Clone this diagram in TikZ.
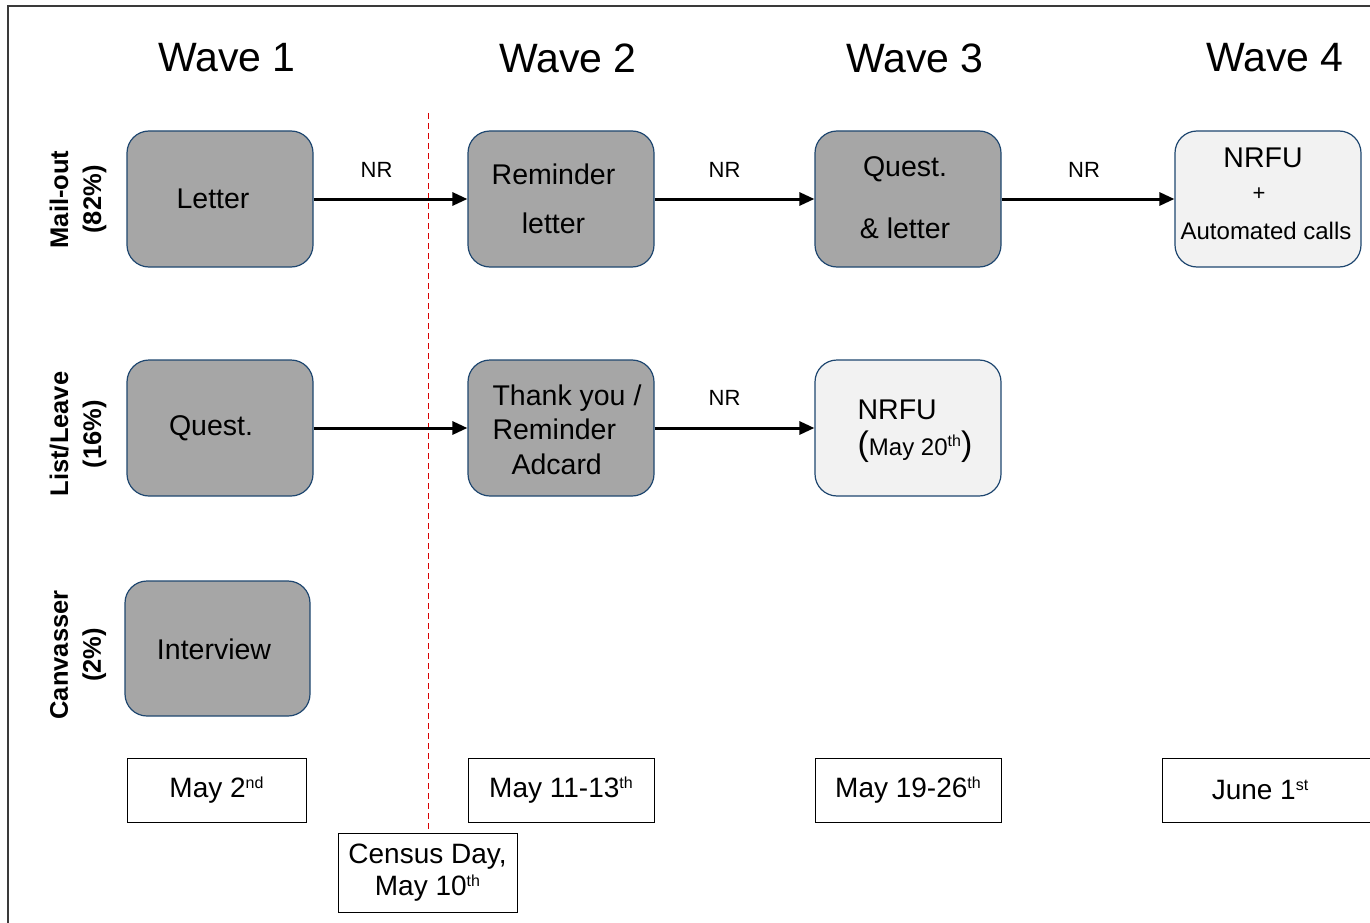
\documentclass[tikz,border=0pt]{standalone}
\usepackage{fontspec}
\setmainfont{Liberation Sans}
\usetikzlibrary{arrows.meta}
\definecolor{boxgray}{HTML}{A6A6A6}
\definecolor{boxlight}{HTML}{F2F2F2}
\definecolor{boxedge}{HTML}{1F4770}
\definecolor{framegray}{HTML}{3A3A3A}
\newcommand\fs[2]{\fontsize{#1}{#2}\selectfont}
\newcommand\supr[1]{\raisebox{9pt}{\fs{16}{16}#1}}
\tikzset{
  stage/.style={draw=boxedge, line width=1.2pt, rounded corners=22pt,
    minimum width=186pt, minimum height=136pt, inner sep=0pt},
  darkstage/.style={stage, fill=boxgray},
  lightstage/.style={stage, fill=boxlight},
  txt/.style={inner sep=0pt, align=center, text=black},
  wave/.style={txt, font=\fs{41}{41}},
  rowlabel/.style={txt, rotate=90, font=\fs{25.5}{33}\bfseries},
  datebox/.style={draw=black, line width=1pt, fill=white, inner sep=0pt,
    font=\fs{28}{32}, align=center},
  flow/.style={line width=3pt, -{Triangle[length=15pt,width=13pt]}},
  nrlabel/.style={txt, font=\fs{22}{22}},
}
\begin{document}
\begin{tikzpicture}[x=1pt,y=-1pt]
\useasboundingbox (0,0) rectangle (1370,923);
\fill[white] (0,0) rectangle (1370,923);
% outer frame (runs off the right and bottom edges)
\draw[framegray, line width=1.5pt] (8,930) -- (8,6) -- (1380,6);

% wave headings
\node[wave] (w1) at (227,58) {Wave 1};
\node[wave] (w2) at (568,58) {Wave 2};
\node[wave] (w3) at (915,58) {Wave 3};
\node[wave] (w4) at (1275,58) {Wave 4};

% row labels
\node[rowlabel] (r1) at (78,199.5) {Mail-out\\(82\%)};
\node[rowlabel] (r2) at (78,434) {List/Leave\\(16\%)};
\node[rowlabel] (r3) at (78,655) {Canvasser\\(2\%)};

% census day marker
\node[datebox, minimum width=179pt, minimum height=79pt] (census) at (427.5,872.5)
  {Census Day,\\May 10\supr{th}};
\coordinate (censustop) at (428,113);
\draw[red!85!black, dashed, dash pattern=on 6pt off 4pt, line width=1pt]
  (censustop) -- (census.north -| censustop);

% mail-out row
\node[darkstage] (m1) at (220,199) {};
\node[txt, font=\fs{28.5}{28.5}] (m1t) at (213,199) {Letter};
\node[darkstage] (m2) at (561,199) {};
\node[txt, font=\fs{28.5}{49}] (m2t) at (553.5,198.5) {Reminder\\letter};
\node[darkstage] (m3) at (908,199) {};
\node[txt, font=\fs{28.5}{62}] (m3t) at (905,198) {Quest.\\\& letter};
\node[lightstage] (m4) at (1268,199) {};
\node[txt, font=\fs{28.5}{28.5}] (m4a) at (1263,158) {NRFU};
\node[txt, font=\fs{22}{22}] (m4b) at (1259,194) {+};
\node[txt, font=\fs{24}{24}] (m4c) at (1266,231) {Automated calls};

% list/leave row
\node[darkstage] (l1) at (220,428) {};
\node[txt, font=\fs{28.5}{28.5}] (l1t) at (211,428) {Quest.};
\node[darkstage] (l2) at (561,428) {};
\node[txt, font=\fs{28.5}{34.5}, align=left] (l2t) at (567,429.5)
  {Thank you /\\Reminder\\\hspace*{19pt}Adcard};
\node[lightstage] (l3) at (908,428) {};
\node[txt, font=\fs{28.5}{36}, align=left] (l3t) at (915,431)
  {NRFU\\{\fs{34}{36}(}{\fs{24}{36}May 20\supr{th}}{\fs{34}{36})}};

% canvasser row
\node[darkstage, minimum width=185pt, minimum height=135pt] (c1) at (217.5,648.5) {};
\node[txt, font=\fs{28.5}{28.5}] (c1t) at (214,649) {Interview};

% connectors
\draw[flow] (m1.east) -- node[nrlabel, above=20pt, xshift=-14pt] (nr1) {NR} (m2.west);
\draw[flow] (m2.east) -- node[nrlabel, above=20pt, xshift=-10pt] (nr2) {NR} (m3.west);
\draw[flow] (m3.east) -- node[nrlabel, above=20pt, xshift=-4pt] (nr3) {NR} (m4.west);
\draw[flow] (l1.east) -- (l2.west);
\draw[flow] (l2.east) -- node[nrlabel, above=21pt, xshift=-10pt] (nr4) {NR} (l3.west);

% dates
\node[datebox, minimum width=179pt, minimum height=64pt] (d1) at (216.5,790) {May 2\supr{nd}};
\node[datebox, minimum width=186pt, minimum height=64pt] (d2) at (561,790) {May 11-13\supr{th}};
\node[datebox, minimum width=186pt, minimum height=64pt] (d3) at (908,790) {May 19-26\supr{th}};
\draw[black, line width=1pt, fill=white] (1380,758) -- (1162,758) -- (1162,822) -- (1380,822);
\node[txt, font=\fs{28}{32}] (d4) at (1260,790) {June 1\supr{st}};
\end{tikzpicture}
\end{document}
